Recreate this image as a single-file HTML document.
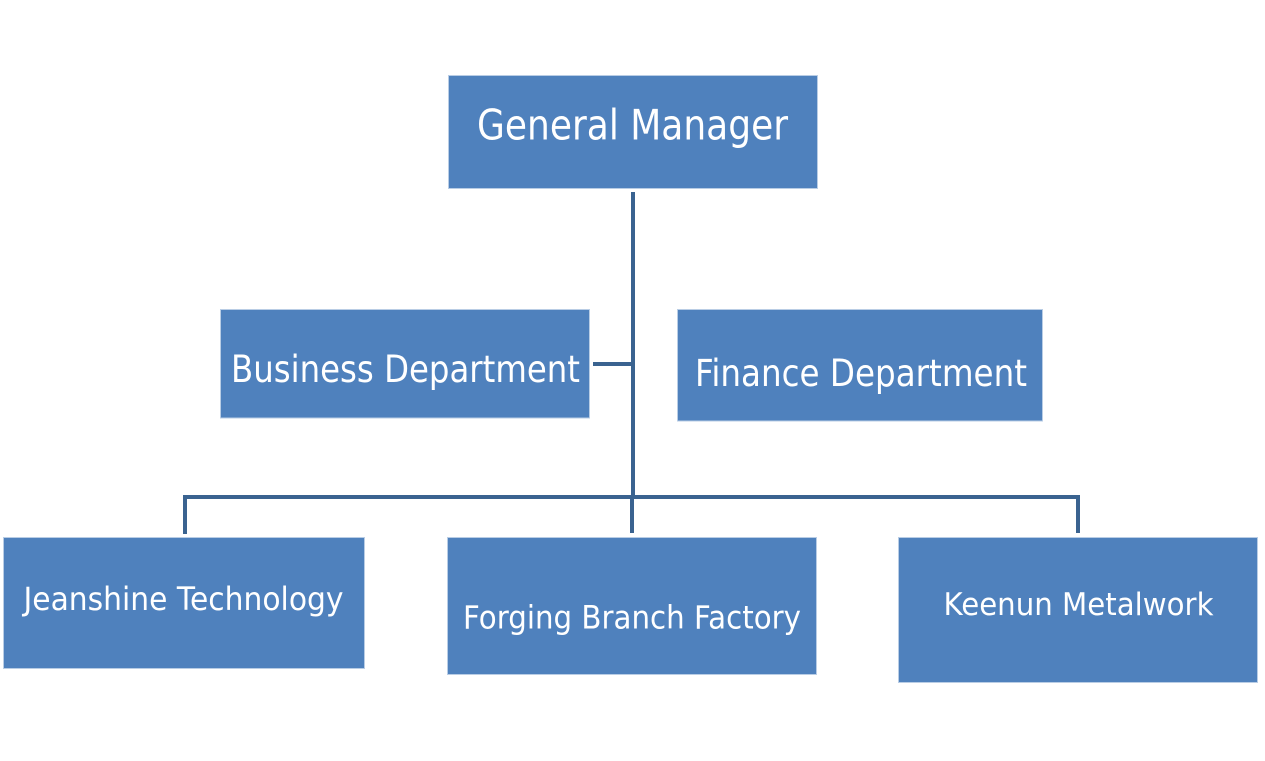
<!DOCTYPE html>
<html>
<head>
<meta charset="utf-8">
<style>
  html, body { margin: 0; padding: 0; background: #ffffff; }
  body { width: 1265px; height: 761px; overflow: hidden; }
  svg { display: block; }
  text { font-family: "DejaVu Sans", "Liberation Sans", sans-serif; fill: #ffffff; }
</style>
</head>
<body>
<svg width="1265" height="761" viewBox="0 0 1265 761" xmlns="http://www.w3.org/2000/svg">
  <rect x="0" y="0" width="1265" height="761" fill="#ffffff"/>

  <!-- connectors -->
  <g fill="#3a6390">
    <rect x="631" y="192" width="4" height="307"/>
    <rect x="593" y="362" width="40" height="4"/>
    <rect x="183" y="495" width="897" height="4"/>
    <rect x="183" y="495" width="4" height="39"/>
    <rect x="630" y="495" width="4" height="38"/>
    <rect x="1076" y="495" width="4" height="38"/>
  </g>

  <!-- boxes -->
  <g fill="#4f81bd" stroke="#b9cde5" stroke-width="1">
    <rect x="448.5" y="75.5" width="369" height="113"/>
    <rect x="220.5" y="309.5" width="369" height="108.5"/>
    <rect x="677.5" y="309.5" width="365" height="111.5"/>
    <rect x="3.5" y="537.5" width="361" height="131"/>
    <rect x="447.5" y="537.5" width="369" height="137"/>
    <rect x="898.5" y="537.5" width="359" height="145"/>
  </g>

  <!-- labels -->
  <text x="477" y="139.5" font-size="42" textLength="311" lengthAdjust="spacingAndGlyphs">General Manager</text>
  <text x="231" y="382" font-size="37" textLength="349" lengthAdjust="spacingAndGlyphs">Business Department</text>
  <text x="695" y="386" font-size="37" textLength="332" lengthAdjust="spacingAndGlyphs">Finance Department</text>
  <text x="23.5" y="610" font-size="32" textLength="320" lengthAdjust="spacingAndGlyphs">Jeanshine Technology</text>
  <text x="463" y="628.5" font-size="32" textLength="338" lengthAdjust="spacingAndGlyphs">Forging Branch Factory</text>
  <text x="943.5" y="615" font-size="31" textLength="270" lengthAdjust="spacingAndGlyphs">Keenun Metalwork</text>
</svg>
</body>
</html>
